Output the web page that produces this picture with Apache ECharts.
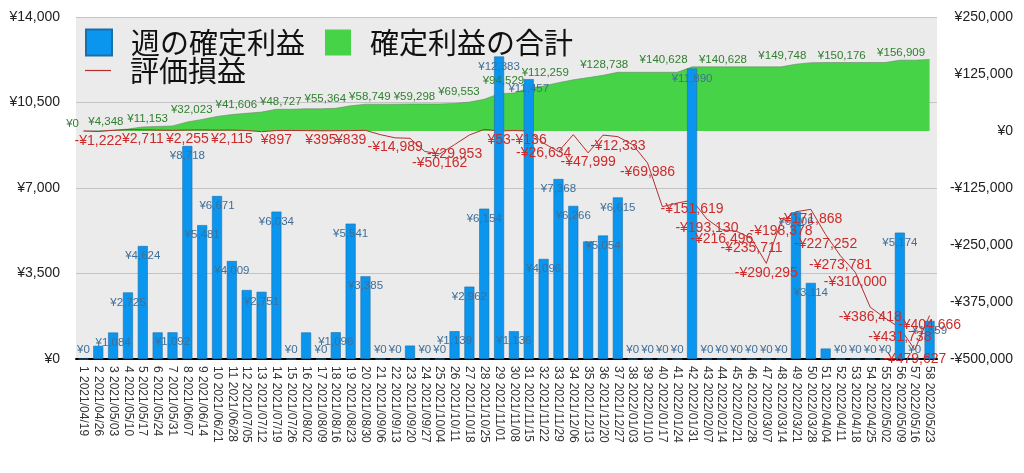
<!DOCTYPE html>
<html><head><meta charset="utf-8">
<script src="https://cdn.jsdelivr.net/npm/echarts@6/dist/echarts.min.js"></script>
<style>html,body{margin:0;padding:0;background:#fff}#c{width:1024px;height:473px}</style>
</head><body><div id="c"></div>
<script>
const categories = [
'1 2021/04/19','2 2021/04/26','3 2021/05/03','4 2021/05/10','5 2021/05/17','6 2021/05/24','7 2021/05/31','8 2021/06/07','9 2021/06/14','10 2021/06/21',
'11 2021/06/28','12 2021/07/05','13 2021/07/12','14 2021/07/19','15 2021/07/26','16 2021/08/02','17 2021/08/09','18 2021/08/16','19 2021/08/23','20 2021/08/30',
'21 2021/09/06','22 2021/09/13','23 2021/09/20','24 2021/09/27','25 2021/10/04','26 2021/10/11','27 2021/10/18','28 2021/10/25','29 2021/11/01','30 2021/11/08',
'31 2021/11/15','32 2021/11/22','33 2021/11/29','34 2021/12/06','35 2021/12/13','36 2021/12/20','37 2021/12/27','38 2022/01/03','39 2022/01/10','40 2022/01/17',
'41 2022/01/24','42 2022/01/31','43 2022/02/07','44 2022/02/14','45 2022/02/21','46 2022/02/28','47 2022/03/07','48 2022/03/14','49 2022/03/21','50 2022/03/28',
'51 2022/04/04','52 2022/04/11','53 2022/04/18','54 2022/04/25','55 2022/05/02','56 2022/05/09','57 2022/05/16','58 2022/05/23'];

const weeklyProfit = [0,539,1084,2725,4624,1089,1092,8718,5481,6671,
 4009,2823,2751,6034,0,1087,0,1096,5541,3385,
 0,0,549,0,0,1139,2962,6154,12383,1136,
 11457,4096,7368,6266,4810,5054,6615,0,0,0,
 0,11890,0,0,0,0,0,0,6006,3114,
 428,0,0,0,0,5174,0,1559];

const cumulativeProfit = [0,539,1623,4348,8972,10061,11153,19871,25352,32023,
 36032,38855,41606,47640,47640,48727,48727,49823,55364,58749,
 58749,58749,59298,59298,59298,60437,63399,69553,81936,83072,
 94529,98625,105993,112259,117069,122123,128738,128738,128738,128738,
 128738,140628,140628,140628,140628,140628,140628,140628,146634,149748,
 150176,150176,150176,150176,150176,155350,155350,156909];

const unrealized = [0,-1222,1500,3000,2711,2000,1500,2255,2500,2000,
 2115,1000,-1500,897,1200,800,395,600,839,1500,
 -8000,-14989,-16000,-45000,-50162,-29953,-8800,3500,53,1000,
 -136,-26634,-45000,-8000,-47999,-9000,-12333,-30000,-69986,-166000,
 -158000,-151619,-193130,-216496,-220000,-235711,-290295,-198378,-177000,-171868,
 -227252,-273781,-310000,-386418,-410000,-431738,-479627,-404666];

const leftTicks = [0,3500,7000,10500,14000];
const rightTicks = [-500000,-375000,-250000,-125000,0,125000,250000];

// which weeks show a value label (as in the reference)
const barLabelHidden = [2,6,12,16,23,35,51];
const cumLabelWeeks = [1,4,7,10,13,16,19,22,25,28,31,34,38,42,46,50,54,58];
const unrealLabelWeeks = [2,5,8,11,14,17,19,22,25,26,29,31,32,35,37,39,42,43,44,46,47,48,50,51,52,53,54,56,57,58];

const yen = v => (v < 0 ? '-¥' : '¥') + Math.abs(v).toLocaleString('en-US');
const LAT = '"Liberation Sans", Arial, Helvetica, sans-serif';
const JP = '"Noto Sans CJK JP", "Noto Sans", sans-serif';

const chart = echarts.init(document.getElementById('c'), null, {renderer: 'canvas'});

const barData = weeklyProfit.map((v, i) => ({
  value: v,
  label: {
    show: barLabelHidden.indexOf(i + 1) < 0,
    position: v === 0 ? 'insideBottom' : 'insideTop',
    distance: v === 0 ? 3 : 4
  }
}));

const legendText = {fontSize: 29, fontFamily: JP, color: '#111', padding: [0, 0, 0, 14]};

chart.setOption({
  animation: false,
  backgroundColor: '#ffffff',
  grid: {left: 76, right: 87, top: 17, bottom: 114, show: true, backgroundColor: '#ebebeb', borderWidth: 0},
  legend: [
    {data: [{name: '週の確定利益', icon: 'rect'}, {name: '確定利益の合計', icon: 'rect', itemStyle: {color: '#47d347', borderWidth: 0}}],
     left: 85, top: 28, itemWidth: 26, itemHeight: 26, itemGap: 20, padding: 0, textStyle: legendText},
    {data: [{name: '評価損益', icon: 'rect', itemStyle: {color: '#b52e2e', borderWidth: 0}}],
     left: 85, top: 56, itemWidth: 26, itemHeight: 1.2, padding: 0, textStyle: legendText}
  ],
  xAxis: {
    type: 'category', data: categories, boundaryGap: true,
    axisLine: {lineStyle: {color: '#000', width: 2}},
    axisTick: {show: false},
    axisLabel: {interval: 0, rotate: -90, fontSize: 12, fontFamily: LAT, color: '#333', margin: 7}
  },
  yAxis: [
    {type: 'value', min: leftTicks[0], max: leftTicks[leftTicks.length - 1], interval: 3500, position: 'left',
     axisLine: {show: false}, axisTick: {show: false},
     splitLine: {lineStyle: {color: '#c4c4c4', width: 1}},
     axisLabel: {formatter: yen, fontSize: 14, color: '#222', margin: 16, fontFamily: LAT}},
    {type: 'value', min: rightTicks[0], max: rightTicks[rightTicks.length - 1], interval: 125000, position: 'right',
     axisLine: {show: false}, axisTick: {show: false}, splitLine: {show: false},
     axisLabel: {formatter: yen, fontSize: 14, color: '#222', align: 'right', margin: 76, fontFamily: LAT}}
  ],
  series: [
    {name: '確定利益の合計', type: 'line', yAxisIndex: 1, data: cumulativeProfit, symbol: 'none', z: 1,
     lineStyle: {color: 'rgba(110,120,110,0.55)', width: 1},
     areaStyle: {color: '#47d347', opacity: 1},
     itemStyle: {color: '#47d347'}},
    {name: '評価損益', type: 'line', yAxisIndex: 1, data: unrealized, symbol: 'none', z: 2,
     lineStyle: {color: '#b52e2e', width: 1}, itemStyle: {color: '#b52e2e'}},
    {name: '週の確定利益', type: 'bar', yAxisIndex: 0, data: barData, barWidth: 10, z: 3,
     itemStyle: {color: '#0a96ef', borderColor: '#1b6fa8', borderWidth: 0.6},
     label: {color: '#3f6f98', fontSize: 11.5, fontFamily: LAT, formatter: p => yen(p.value)}},
    {name: '_cumLabels', type: 'line', yAxisIndex: 1, data: cumulativeProfit, z: 10, silent: true,
     symbol: 'circle', symbolSize: 1, showSymbol: true, showAllSymbol: true,
     lineStyle: {width: 0, opacity: 0}, itemStyle: {color: 'rgba(0,0,0,0)'},
     label: {show: true, position: 'left', distance: 4, offset: [0, -7], color: '#2f7f2f', fontSize: 11.5, fontFamily: LAT,
             formatter: p => cumLabelWeeks.indexOf(p.dataIndex + 1) >= 0 ? yen(p.value) : ''}},
    {name: '_unrealLabels', type: 'line', yAxisIndex: 1, data: unrealized, z: 11, silent: true,
     symbol: 'circle', symbolSize: 1, showSymbol: true, showAllSymbol: true,
     lineStyle: {width: 0, opacity: 0}, itemStyle: {color: 'rgba(0,0,0,0)'},
     label: {show: true, position: 'bottom', distance: 2, color: '#cc2b2b', fontSize: 14, fontFamily: LAT,
             formatter: p => unrealLabelWeeks.indexOf(p.dataIndex + 1) >= 0 ? yen(p.value) : ''}}
  ]
});
</script></body></html>
